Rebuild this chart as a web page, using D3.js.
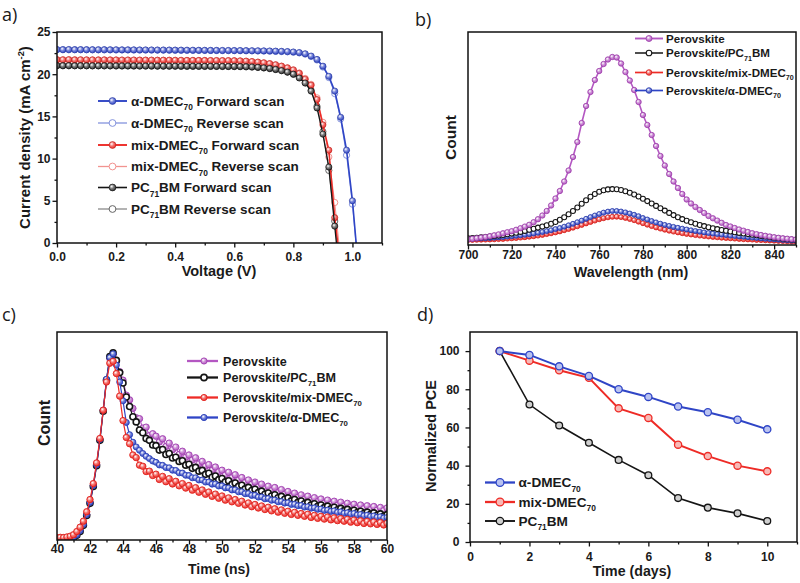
<!DOCTYPE html>
<html><head><meta charset="utf-8">
<script src="https://cdn.jsdelivr.net/npm/d3@7"></script>
<style>
body{margin:0;background:#fff}
svg text{font-family:"Liberation Sans",Arial,sans-serif;font-weight:bold;fill:#1a1a1a}
</style></head>
<body><svg id="fig" width="800" height="583"></svg>
<script>
// ================= DATA =================
// Panel a: J-V curves (voltage grid in V, current density in mA cm-2)
const voltage = d3.range(0, 1.0201, 0.02).map(v => +v.toFixed(2));
const aBlueFwd = [22.92,22.91,22.92,22.90,22.91,22.90,22.90,22.89,22.90,22.89,22.89,22.88,22.88,22.88,22.87,22.87,22.87,22.86,22.86,22.86,22.85,22.85,22.84,22.84,22.83,22.83,22.82,22.82,22.81,22.81,
  22.80,22.80,22.79,22.78,22.77,22.76,22.75,22.73,22.71,22.68,22.63,22.56,22.42,22.15,21.75,20.95,19.75,18.00,14.90,11.00,5.00,-3.0];
const aBlueRev = [22.90,22.90,22.89,22.90,22.89,22.89,22.88,22.89,22.88,22.88,22.87,22.87,22.87,22.86,22.86,22.86,22.85,22.85,22.85,22.84,22.84,22.83,22.83,22.82,22.82,22.81,22.81,22.80,22.80,22.79,
  22.79,22.78,22.77,22.76,22.75,22.74,22.72,22.70,22.68,22.65,22.60,22.52,22.38,22.10,21.68,20.85,19.60,17.70,14.70,10.40,4.60,-3.2];
const aRedFwd = [21.72,21.71,21.72,21.70,21.71,21.70,21.70,21.69,21.70,21.69,21.69,21.68,21.68,21.68,21.67,21.67,21.67,21.66,21.66,21.66,21.65,21.65,21.64,21.64,21.63,21.63,21.62,21.62,21.61,21.61,
  21.60,21.58,21.55,21.50,21.43,21.35,21.25,21.12,20.95,20.75,20.50,20.10,19.40,18.70,17.00,14.00,11.00,3.00,-3.0,null,null,null];
const aRedRev = [21.70,21.70,21.69,21.70,21.69,21.69,21.68,21.69,21.68,21.68,21.67,21.67,21.67,21.66,21.66,21.66,21.65,21.65,21.65,21.64,21.64,21.63,21.63,21.62,21.62,21.61,21.61,21.60,21.60,21.59,
  21.58,21.56,21.53,21.48,21.42,21.34,21.24,21.11,20.95,20.76,20.52,20.15,19.50,18.80,17.20,14.30,10.20,4.80,-2.0,null,null,null];
const aBlackFwd = [21.02,21.01,21.02,21.00,21.01,21.00,21.00,20.99,21.00,20.99,20.99,20.98,20.98,20.98,20.97,20.97,20.97,20.96,20.96,20.96,20.96,20.95,20.95,20.95,20.94,20.94,20.94,20.93,20.93,20.92,
  20.92,20.91,20.89,20.86,20.82,20.76,20.68,20.57,20.43,20.25,20.00,19.55,18.95,18.00,16.00,12.90,9.00,2.00,-5.0,null,null,null];
const aBlackRev = [21.00,21.00,20.99,21.00,20.99,20.99,20.98,20.99,20.98,20.98,20.97,20.97,20.97,20.96,20.96,20.96,20.95,20.95,20.95,20.94,20.94,20.94,20.93,20.93,20.93,20.92,20.92,20.92,20.91,20.91,
  20.90,20.89,20.87,20.84,20.80,20.74,20.66,20.55,20.42,20.24,20.00,19.60,19.00,18.10,16.20,13.20,8.60,2.60,-4.0,null,null,null];
const aLabels = ["α-DMEC_{70} Forward scan","α-DMEC_{70} Reverse scan","mix-DMEC_{70} Forward scan","mix-DMEC_{70} Reverse scan","PC_{71}BM Forward scan","PC_{71}BM Reverse scan"];
const aXTicks = [0,0.2,0.4,0.6,0.8,1.0];
const aYTicks = [0,5,10,15,20,25];

// Panel b: PL spectra (wavelength nm, counts a.u.)
const wavelength = d3.range(700, 850.1, 2);
const bPerov = [5.7,6.2,6.8,7.4,8.0,8.8,9.7,10.6,11.7,12.8,
  13.8,15.2,16.8,18.4,20.2,22.8,25.8,29.5,34.0,39.5,
  46.5,54.0,63.5,74.5,88.0,103.0,122.0,139.0,153.0,165.0,
  174.0,181.0,185.5,188.0,187.5,181.5,173.0,164.5,155.0,143.0,
  130.0,120.0,110.0,99.0,89.0,79.5,71.0,63.5,57.0,51.0,
  45.5,41.5,38.0,35.0,32.0,29.0,26.7,24.4,22.2,20.0,
  18.5,17.0,15.5,14.3,13.0,11.8,10.8,10.0,9.2,8.5,
  7.8,7.2,6.7,6.3,5.8,5.5];
const bPC71 = [6.7,7.0,7.3,7.6,8.0,8.4,8.9,9.4,10.0,10.7,
  11.4,12.2,13.1,14.1,15.2,16.3,17.4,18.5,19.8,21.3,
  23.0,25.2,27.8,30.8,34.0,37.5,41.2,44.8,48.2,51.0,
  53.2,54.7,55.6,55.9,55.7,55.0,53.8,52.3,50.5,48.5,
  46.3,43.9,41.5,39.1,36.8,34.4,32.1,29.9,27.8,25.9,
  24.2,22.7,21.3,20.0,18.9,17.8,16.8,15.9,15.0,14.2,
  13.5,12.8,12.1,11.5,10.9,10.3,9.7,9.1,8.5,7.9,
  7.3,6.8,6.3,5.8,5.4,5.0];
const bMix = [5.0,5.1,5.2,5.3,5.4,5.5,5.7,5.9,6.1,6.4,
  6.7,7.0,7.4,7.8,8.3,8.8,9.4,10.1,10.9,11.7,
  12.6,13.6,14.8,16.0,17.3,18.7,20.1,21.6,23.0,24.4,
  25.7,26.8,27.7,28.2,28.3,27.9,27.1,26.0,24.8,23.3,
  21.8,20.3,18.9,17.6,16.4,15.3,14.3,13.4,12.6,11.8,
  11.1,10.5,9.9,9.4,8.9,8.5,8.1,7.7,7.3,7.0,
  6.7,6.4,6.1,5.8,5.6,5.4,5.1,4.9,4.7,4.5,
  4.3,4.1,3.9,3.7,3.5,3.3];
const bAlpha = [6.0,6.2,6.4,6.6,6.8,7.0,7.3,7.6,8.0,8.4,
  8.8,9.2,9.7,10.2,10.8,11.5,12.2,13.0,13.9,14.8,
  15.9,17.0,18.3,19.7,21.2,22.8,24.4,26.2,27.9,29.5,
  31.0,32.4,33.4,34.0,34.0,33.5,32.6,31.5,30.2,28.8,
  27.0,25.5,24.0,22.6,21.3,20.1,19.1,18.1,17.2,16.3,
  15.5,14.7,14.0,13.3,12.6,12.0,11.4,10.9,10.4,9.9,
  9.4,9.0,8.6,8.2,7.8,7.4,7.0,6.6,6.2,5.9,
  5.6,5.3,5.0,4.7,4.4,4.2];
const bLabels = ["Perovskite","Perovskite/PC_{71}BM","Perovskite/mix-DMEC_{70}","Perovskite/α-DMEC_{70}"];
const bXTicks = [700,720,740,760,780,800,820,840];

// Panel c: TRPL decays (time ns, normalized counts)
const timeNs = d3.range(40, 60.001, 0.2).map(v => +v.toFixed(1));
const cPerov = [0.008,0.009,0.008,0.010,0.011,0.016,0.030,0.052,0.085,0.135,
  0.200,0.290,0.400,0.535,0.690,0.850,0.965,0.985,0.950,0.895,
  0.850,0.770,0.745,0.700,0.650,0.645,0.595,0.600,0.555,0.565,
  0.552,0.521,0.538,0.497,0.515,0.480,0.494,0.455,0.472,0.440,
  0.452,0.425,0.437,0.405,0.418,0.392,0.401,0.370,0.388,0.362,
  0.371,0.345,0.360,0.331,0.347,0.318,0.332,0.305,0.319,0.296,
  0.308,0.282,0.297,0.271,0.286,0.262,0.279,0.251,0.268,0.243,
  0.258,0.233,0.249,0.226,0.240,0.217,0.233,0.210,0.225,0.203,
  0.218,0.196,0.212,0.190,0.206,0.185,0.201,0.180,0.195,0.175,
  0.190,0.170,0.186,0.166,0.182,0.161,0.178,0.158,0.173,0.156,
  0.170];
const cPC71 = [0.008,0.008,0.009,0.009,0.010,0.013,0.025,0.045,0.078,0.130,
  0.195,0.285,0.395,0.530,0.685,0.850,0.975,0.995,0.955,0.890,
  0.835,0.760,0.710,0.655,0.628,0.585,0.570,0.540,0.530,0.505,
  0.502,0.478,0.481,0.455,0.460,0.436,0.440,0.418,0.421,0.398,
  0.403,0.381,0.386,0.366,0.370,0.349,0.355,0.334,0.340,0.321,
  0.327,0.309,0.315,0.296,0.303,0.285,0.291,0.272,0.280,0.263,
  0.270,0.252,0.260,0.243,0.250,0.234,0.241,0.225,0.232,0.217,
  0.224,0.208,0.215,0.200,0.207,0.193,0.200,0.186,0.193,0.179,
  0.186,0.172,0.180,0.166,0.174,0.161,0.168,0.156,0.163,0.150,
  0.158,0.146,0.153,0.141,0.148,0.136,0.144,0.132,0.139,0.128,
  0.135];
const cMix = [0.012,0.014,0.013,0.016,0.020,0.028,0.045,0.068,0.100,0.150,
  0.215,0.300,0.410,0.540,0.690,0.840,0.940,0.950,0.885,0.765,
  0.635,0.545,0.512,0.452,0.438,0.398,0.392,0.364,0.366,0.343,
  0.350,0.322,0.338,0.310,0.326,0.298,0.312,0.288,0.300,0.276,
  0.290,0.265,0.278,0.254,0.266,0.243,0.255,0.232,0.244,0.222,
  0.234,0.212,0.224,0.203,0.215,0.195,0.206,0.186,0.197,0.177,
  0.189,0.170,0.181,0.162,0.174,0.155,0.166,0.148,0.160,0.142,
  0.153,0.136,0.147,0.131,0.141,0.126,0.137,0.120,0.131,0.115,
  0.126,0.111,0.122,0.107,0.118,0.103,0.114,0.100,0.110,0.095,
  0.106,0.092,0.102,0.088,0.099,0.086,0.096,0.083,0.093,0.080,
  0.089];
const cAlpha = [0.008,0.009,0.009,0.010,0.011,0.015,0.028,0.050,0.082,0.135,
  0.200,0.290,0.400,0.535,0.690,0.855,0.970,0.990,0.930,0.840,
  0.740,0.625,0.560,0.520,0.495,0.477,0.460,0.445,0.433,0.420,
  0.413,0.399,0.397,0.385,0.384,0.371,0.370,0.357,0.356,0.344,
  0.343,0.331,0.331,0.319,0.319,0.308,0.308,0.297,0.298,0.287,
  0.288,0.277,0.277,0.266,0.267,0.256,0.257,0.246,0.247,0.237,
  0.238,0.228,0.229,0.219,0.221,0.211,0.213,0.203,0.205,0.196,
  0.198,0.189,0.190,0.182,0.184,0.175,0.177,0.169,0.171,0.163,
  0.165,0.157,0.159,0.152,0.155,0.147,0.150,0.142,0.145,0.138,
  0.141,0.133,0.136,0.129,0.132,0.125,0.128,0.121,0.124,0.117,
  0.120];
const cXTicks = [40,42,44,46,48,50,52,54,56,58,60];

// Panel d: stability (days, normalized PCE %)
const days = [1,2,3,4,5,6,7,8,9,10];
const dAlpha = [100,98,92,87,80,76,71,68,64,59];
const dMix = [100,95,90,86,70,65,51,45,40,37];
const dPC71 = [100,72,61,52,43,35,23,18,15,11];
const dLabels = ["α-DMEC_{70}","mix-DMEC_{70}","PC_{71}BM"];
const dXTicks = [0,2,4,6,8,10];
const dYTicks = [0,20,40,60,80,100];

// ================= STYLE =================
const BLUE='#2f45c6', RED='#ee2b26', PINK='#b457c2', BLACK='#151515';
const BLUE_L='#8493dd', RED_L='#f29390', BLACK_L='#8a8a8a';

const svg = d3.select('#fig');
const defs = svg.append('defs');
function ball(id, c){
  const g = defs.append('radialGradient').attr('id',id).attr('cx','38%').attr('cy','35%').attr('r','70%');
  g.append('stop').attr('offset','0%').attr('stop-color','#fff');
  g.append('stop').attr('offset','45%').attr('stop-color', d3.interpolateRgb(c,'#fff')(0.35));
  g.append('stop').attr('offset','100%').attr('stop-color', c);
}
ball('bBlue',BLUE); ball('bRed',RED); ball('bPink',PINK); ball('bBlack','#333');

function rich(sel, str, fs){
  const parts = str.split(/(_\{[^}]*\}|\^\{[^}]*\})/).filter(s=>s.length);
  let off = 0;
  parts.forEach(p=>{
    let d=0, small=false, txt=p;
    if(p[0]==='_'&&p[1]==='{'){d=0.32*fs;small=true;txt=p.slice(2,-1);}
    else if(p[0]==='^'&&p[1]==='{'){d=-0.42*fs;small=true;txt=p.slice(2,-1);}
    const ts = sel.append('tspan').text(txt);
    if(d-off!==0) ts.attr('dy', d-off);
    if(small) ts.attr('font-size', fs*0.62);
    off = d;
  });
}

function panel(o){
  const g = svg.append('g');
  const x = d3.scaleLinear().domain(o.xd).range([o.x0,o.x1]);
  const y = d3.scaleLinear().domain(o.yd).range([o.y1,o.y0]);
  defs.append('clipPath').attr('id','clip'+o.id).append('rect')
    .attr('x',o.x0).attr('y',o.y0).attr('width',o.x1-o.x0).attr('height',o.y1-o.y0);
  const xa = g.append('g').attr('transform',`translate(0,${o.y1})`)
    .call(d3.axisBottom(x).tickValues(o.xt).tickSize(4.5).tickPadding(o.xpad).tickFormat(o.xf));
  const xm = g.append('g').attr('transform',`translate(0,${o.y1})`)
    .call(d3.axisBottom(x).tickValues(o.xm).tickSize(2.5).tickFormat(''));
  const axes=[xa,xm];
  if(o.yt){
    axes.push(g.append('g').attr('transform',`translate(${o.x0},0)`)
      .call(d3.axisLeft(y).tickValues(o.yt).tickSize(4.5).tickPadding(o.ypad).tickFormat(o.yf)));
    axes.push(g.append('g').attr('transform',`translate(${o.x0},0)`)
      .call(d3.axisLeft(y).tickValues(o.ym).tickSize(2.5).tickFormat('')));
  }
  axes.forEach(a=>{
    a.select('.domain').remove();
    a.selectAll('line').attr('stroke','#111').attr('stroke-width',1.3);
    a.selectAll('text').attr('font-size',12).attr('fill','#1a1a1a');
  });
  const plot = g.append('g').attr('clip-path',`url(#clip${o.id})`);
  return {g,x,y,plot,o};
}
function frame(p){
  const o=p.o;
  p.g.append('rect').attr('x',o.x0).attr('y',o.y0).attr('width',o.x1-o.x0).attr('height',o.y1-o.y0)
    .attr('fill','none').attr('stroke','#111').attr('stroke-width',1.5);
}
function title(p, str, x, y, fs, rot){
  const t = svg.append('text').attr('font-size',fs).attr('text-anchor','middle')
    .attr('transform', rot?`translate(${x},${y}) rotate(-90)`:`translate(${x},${y})`);
  rich(t,str,fs);
}
function series(p, xs, ys, s){
  const pts = xs.map((xv,i)=>[xv,ys[i]]).filter(d=>d[1]!==null && d[1]!==undefined);
  const line = d3.line().x(d=>p.x(d[0])).y(d=>p.y(d[1]));
  p.plot.append('path').attr('d',line(pts)).attr('fill','none')
    .attr('stroke',s.line).attr('stroke-width',s.lw);
  p.plot.append('g').selectAll('circle').data(pts).join('circle')
    .attr('cx',d=>p.x(d[0])).attr('cy',d=>p.y(d[1])).attr('r',s.r)
    .attr('fill',s.fill).attr('stroke',s.stroke).attr('stroke-width',s.sw);
}
function legendRow(x0, x1, xm, y, s, label, fs, xt){
  svg.append('line').attr('x1',x0).attr('x2',x1).attr('y1',y).attr('y2',y)
    .attr('stroke',s.line).attr('stroke-width',s.lw+0.3);
  svg.append('circle').attr('cx',xm).attr('cy',y).attr('r',s.r+0.3)
    .attr('fill',s.fill).attr('stroke',s.stroke).attr('stroke-width',s.sw);
  const t = svg.append('text').attr('x',xt).attr('y',y+fs*0.36).attr('font-size',fs);
  rich(t,label,fs);
}

// ================= PANEL A =================
{
  const p = panel({id:'a',x0:57,x1:382,y0:32,y1:243,xd:[0,1.1],yd:[0,25],
    xt:aXTicks,xm:[0.1,0.3,0.5,0.7,0.9,1.1],xf:d3.format('.1f'),xpad:5,
    yt:aYTicks,ym:[2.5,7.5,12.5,17.5,22.5],yf:d3.format('d'),ypad:2});
  const styles = [
    {line:BLUE,lw:1.6,r:3.1,fill:'url(#bBlue)',stroke:'#22339a',sw:0.6},
    {line:BLUE_L,lw:1,r:3.1,fill:'#fff',stroke:BLUE_L,sw:1},
    {line:RED,lw:1.6,r:3.1,fill:'url(#bRed)',stroke:'#b81c18',sw:0.6},
    {line:RED_L,lw:1,r:3.1,fill:'#fff',stroke:RED_L,sw:1},
    {line:BLACK,lw:1.3,r:3.1,fill:'url(#bBlack)',stroke:'#000',sw:0.6},
    {line:BLACK_L,lw:1,r:3.1,fill:'#fff',stroke:'#666',sw:1}
  ];
  const vals = [aBlueFwd,aBlueRev,aRedFwd,aRedRev,aBlackFwd,aBlackRev];
  [1,3,5,0,2,4].forEach(i=>series(p, voltage, vals[i], styles[i]));
  frame(p);
  const rows=[101,123,145,166.5,187.5,209];
  aLabels.forEach((l,i)=>legendRow(98,127,112.5,rows[i],styles[i],l,13.5,131));
  title(p,'Voltage (V)',219,276,14.5,false);
  title(p,'Current density (mA cm^{-2})',30,137.5,15,true);
}

// ================= PANEL B =================
{
  const p = panel({id:'b',x0:468,x1:796,y0:32,y1:245,xd:[700,850],yd:[0,213],
    xt:bXTicks,xm:[710,730,750,770,790,810,830,850],xf:d3.format('d'),xpad:1});
  const styles = [
    {line:PINK,lw:1.6,r:2.7,fill:'url(#bPink)',stroke:'#9a3aa8',sw:0.8},
    {line:BLACK,lw:1.2,r:2.5,fill:'#fff',stroke:BLACK,sw:1.1},
    {line:RED,lw:1.4,r:2.5,fill:'url(#bRed)',stroke:'#d01e1a',sw:0.8},
    {line:BLUE,lw:1.4,r:2.5,fill:'url(#bBlue)',stroke:'#2236a8',sw:0.8}
  ];
  const vals=[bPerov,bPC71,bMix,bAlpha];
  [2,3,1,0].forEach(i=>series(p, wavelength, vals[i], styles[i]));
  frame(p);
  const rows=[38.5,53,72.5,90.5];
  bLabels.forEach((l,i)=>legendRow(635,663,649,rows[i],styles[i],l,11.6,666));
  title(p,'Wavelength (nm)',631,277,14.3,false);
  title(p,'Count',456,137.5,15.5,true);
}

// ================= PANEL C =================
{
  const p = panel({id:'c',x0:57,x1:387,y0:332,y1:540,xd:[40,60],yd:[0,1.106],
    xt:cXTicks,xm:[41,43,45,47,49,51,53,55,57,59],xf:d3.format('d'),xpad:-0.5});
  const styles = [
    {line:PINK,lw:1.2,r:3.2,fill:'url(#bPink)',stroke:'#a040b0',sw:0.9},
    {line:BLACK,lw:1.2,r:3.0,fill:'#fff',stroke:BLACK,sw:1.6},
    {line:RED,lw:1.2,r:3.2,fill:'url(#bRed)',stroke:'#e0221d',sw:0.9},
    {line:BLUE,lw:1.2,r:3.0,fill:'url(#bBlue)',stroke:'#2a3fb8',sw:0.9}
  ];
  const vals=[cPerov,cPC71,cMix,cAlpha];
  [0,1,3,2].forEach(i=>series(p, timeNs, vals[i], styles[i]));
  frame(p);
  const rows=[361,377.5,397.5,417.5];
  const lst=styles.map(s=>Object.assign({},s,{lw:2,r:2.8}));
  bLabels.forEach((l,i)=>legendRow(187,218,204,rows[i],lst[i],l,12.6,223));
  title(p,'Time (ns)',219,574,14,false);
  title(p,'Count',49.5,423,16,true);
}

// ================= PANEL D =================
{
  const p = panel({id:'d',x0:470,x1:797,y0:332,y1:542,xd:[0,11],yd:[0,110],
    xt:dXTicks,xm:[1,3,5,7,9,11],xf:d3.format('d'),xpad:5.5,
    yt:dYTicks,ym:[10,30,50,70,90],yf:d3.format('d'),ypad:6});
  p.plot.attr('clip-path',null);
  const styles = [
    {line:BLUE,lw:2,r:3.6,fill:'#b9c2f0',stroke:BLUE,sw:1.3},
    {line:RED,lw:2,r:3.6,fill:'#f7b9b6',stroke:RED,sw:1.3},
    {line:BLACK,lw:1.6,r:3.4,fill:'#cfcfcf',stroke:BLACK,sw:1.3}
  ];
  const vals=[dAlpha,dMix,dPC71];
  [2,1,0].forEach(i=>series(p, days, vals[i], styles[i]));
  frame(p);
  const rows=[482.5,502,521];
  dLabels.forEach((l,i)=>legendRow(485,515,500,rows[i],styles[i],l,13.6,518.5));
  title(p,'Time (days)',632,576,14.2,false);
  title(p,'Normalized PCE',436,436,14.5,true);
}

// ================= PANEL LETTERS =================
[['a)',2,21],['b)',415,26],['c)',2,321],['d)',417,321]].forEach(([t,x,y])=>{
  svg.append('text').attr('x',x).attr('y',y).attr('font-size',18)
    .style('font-weight','normal').style('font-family','"Open Sans","Liberation Sans",sans-serif').text(t);
});
</script>
</body></html>
